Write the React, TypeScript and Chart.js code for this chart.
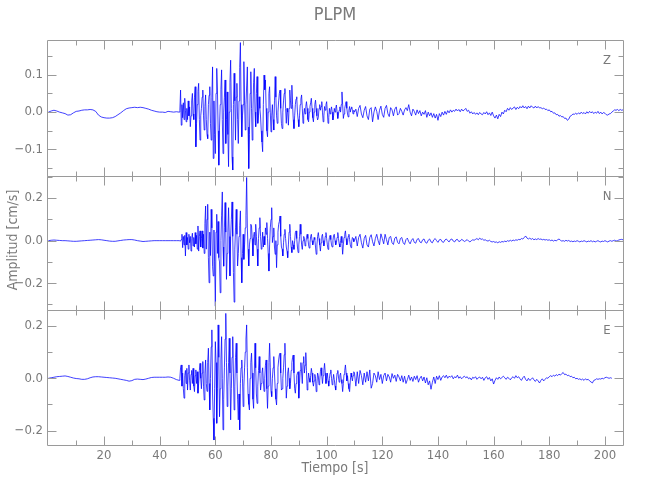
import React, { useEffect, useRef } from "react";
import { Chart, registerables } from "chart.js";

Chart.register(...registerables);

// ---------------- axes ----------------
const X_MIN = -0.5;
const X_MAX = 206.5;
const xLabelTicks = [20, 40, 60, 80, 100, 120, 140, 160, 180, 200];
const xMinorTicks = [10, 30, 50, 70, 90, 110, 130, 150, 170, 190];

const components = ["Z", "N", "E"];
const zRange = [-0.171, 0.193];
const nRange = [-0.326, 0.304];
const eRange = [-0.255, 0.261];
const zMajorTicks = [-0.1, 0, 0.1];
const zMinorTicks = [-0.15, -0.05, 0.05, 0.15];
const nMajorTicks = [-0.2, 0, 0.2];
const nMinorTicks = [-0.3, -0.1, 0.1, 0.3];
const eMajorTicks = [-0.2, 0, 0.2];
const eMinorTicks = [-0.1, 0.1];

// ---------------- digitised traces ----------------
// sampling of the read-off values (seconds)
const PRE_START = 0;
const PRE_STEP = 1;
const EVENT_START = 47;
const EVENT_STEP = 0.25;
const TAIL_START = 110.5;
const TAIL_STEP = 0.5;

// amplitudes in units of 0.001 cm/s
const zPre = [0, 3, 5, 3, 0, -2, -4, -8, -7, -2, 2, 3, 5, 6, 6, 7, 6, 2, -8, -13, -15, -16, -16, -15, -12, -7, -2, 4, 9, 11, 12, 13, 12, 13, 12, 10, 8, 5, 3, 1, 0, 0, -1, 2, 1, 0, 1];
const zEvent = [
  0, 5, 59, -35, 20, -15, 25, -20, 37, 5, -26, 10, -20, 30, -10, 14,
  -39, -10, 30, 50, -5, -20, 40, 68, -93, -30, 20, 55, 77, -20, -75, -10,
  10, 40, 59, -10, -48, 15, 46, -20, -60, -71, 20, 45, 68, -30, -75, 40,
  121, -124, 30, -60, -111, 50, 117, 59, -50, -142, -40, 20, 60, 113, -20, -111,
  0, 40, 86, -84, -20, 54, -60, -146, 0, 80, 139, 10, -120, -155, 20, 104,
  30, -75, 40, 77, -20, -84, 30, 120, 186, 20, -66, -10, 20, 135, 30, -48,
  20, 70, 121, -40, -151, -60, 50, 108, 10, -75, 0, 80, 117, 0, -39, 50,
  95, -30, -10, 41, 10, -13, -50, -80, -106, 20, 99, 60, 86, 10, -50, -66,
  0, 50, 68, 0, -53, -10, 20, -20, -48, 30, 95, 40, -10, -30, 0, 30,
  50, 59, 10, -30, -44, 0, 30, 50, 63, 10, -30, 10, 0, -35, 10, 59,
  30, 10, 72, 20, -20, -44, -10, 20, 35, 41, 0, -20, -39, -10, 20, 35,
  46, 10, -30, -10, 10, -5, 15, 28, 10, -20, -26, 0, 15, 25, 37, 10,
  -15, -26, 0, 20, 32, 10, -10, -21, -15, 10, 20, 5, 15, 28, 0, -26,
  -10, 15, 5, 20, 28, 0, -30, -15, 10, -5, 5, 14, 0, -21, -10, 10,
  0, 10, 19, 0, -17, -5, 5, 14, 0, 20, 54, 20, -17, -5, 10, 20,
  28, 10, -5, -13, 5, 15, 0, 10, 14, 5, -5, 5, 0,
];
const zTail = [
  8, -12, 10, 18, -5, -15, 5, 15, -10, -20,
  8, 12, -26, 0, 14, 2, -20, 5, 16, -6,
  -14, 10, 18, -4, -12, 12, 6, -10, 8, 14,
  -8, -4, 10, 2, -8, 6, 12, 4, 20, 0,
  -10, 8, 2, -8, 6, -4, 4, -10, 0, -6,
  4, -14, 0, -10, -2, -14, -4, -16, -6, -22,
  -4, -12, 0, -8, 2, -6, 4, -2, 6, 0,
  5, 2, 8, 3, 7, 1, 8, 3, 6, 10,
  2, 5, -3, 1, -5, -1, -6, -2, -7, -1,
  -5, -7, -1, -5, 1, -7, -2, -9, 0, -10,
  -16, -8, -18, -6, -12, 0, -5, 5, 1, 10,
  5, 12, 7, 11, 14, 7, 13, 9, 15, 11,
  17, 11, 15, 9, 16, 11, 17, 13, 11, 16,
  11, 15, 11, 12, 9, 11, 7, 8, 4, 6,
  1, 2, -3, -2, -7, -6, -11, -9, -13, -12,
  -17, -16, -22, -19, -11, -9, -5, -6, -3, -6,
  -2, -5, 0, -4, -1, -5, 1, -3, 2, -2,
  1, -4, 0, -3, 2, -4, 0, -5, -1, -3,
  -7, -8, -5, -4, 0, 3, 6, 5, 7, 4,
  7, 5, 6,
];

const nPre = [0, 2, 3, 2, 1, 0, 0, -1, -2, -3, -3, -2, -1, 0, 1, 2, 3, 4, 5, 4, 2, 0, -2, -3, -3, -1, 1, 3, 4, 5, 5, 3, 0, -2, -4, -3, -2, -1, 0, 0, 0, 0, 0, 0, 0, 0, 0];
const nEvent = [
  0, 0, -2, 5, 30, -33, 20, -20, 25, -72, 38, -20, 15, -40, 30, -10,
  20, -49, 10, 35, -25, 15, -30, 38, -15, 25, -40, 69, -49, 20, 46, -30,
  10, 46, -35, 30, -60, 80, 163, -40, 100, 171, -80, -198, 40, -70, 147, 60,
  -120, -166, 50, -100, -308, 40, 124, -60, 90, -80, -100, -245, 0, 120, 229, -30,
  -120, 60, 179, 40, -182, -60, 40, 155, 20, -166, 20, 100, 182, 20, -150, -289,
  -40, 60, 147, 30, -119, -60, 20, 70, 140, -80, -198, -60, 30, -88, -20, 60,
  120, 297, 60, -40, -119, -20, 10, 77, 69, 10, -72, 20, 40, -20, 77, 20,
  -40, -119, 10, 60, 108, 20, -40, -20, 40, -30, 20, -20, 60, 30, 85, 10,
  -60, -143, -20, 60, 100, 155, -9, 20, 60, -30, -64, 0, -127, -20, 40, 77,
  90, 116, 20, -30, -40, -72, -10, 30, 53, 10, -30, -50, -80, -20, 40, 77,
  20, -30, -56, 0, -20, -41, 0, 38, 46, 10, -30, -56, -20, 20, 77, 30,
  -20, -41, 0, 20, 10, -25, -10, 15, 30, 10, -20, -35, -10, 20, 30, 0,
  -20, -10, 15, 5, -30, -64, -20, 20, 38, 10, -20, -49, -10, 20, 30, 0,
  -25, -10, 20, 38, 10, -20, -41, -10, 15, 25, 5, -20, -30, 0, 25, 30,
  0, -20, -10, 15, 38, 10, -15, -30, 0, 20, -10, -64, -20, 15, 30, 46,
  10, -20, -10, 20, 30, 5, -20, -33, -5, 15, 10, -5, 0,
];
const nTail = [
  20, -25, 15, 30, -10, -35, 10, 25, -20, -30,
  15, 28, -5, -25, 10, 30, 0, -20, 32, 10,
  -15, 30, 5, -20, 15, 20, -10, -18, 12, 18,
  -8, -15, 10, 15, -10, -18, 5, 12, -5, -15,
  2, 10, -8, -12, 6, 10, -6, -10, 4, 8,
  -8, -12, 2, 8, -6, -10, 4, 10, 0, -8,
  4, 6, -5, -8, 3, 8, 0, -6, 5, 8,
  -2, -6, 4, 6, -4, -2, 6, 2, -4, 0,
  5, -2, -6, 0, 4, 2, 6, 10, 4, 12,
  6, 8, 2, 4, 0, -2, 2, -4, -6, -4,
  -8, -6, -10, -5, -8, -4, -6, -2, -5, 0,
  -3, 2, -2, 3, 0, 4, 2, 6, 4, 10,
  8, 14, 22, 12, 8, 12, 6, 10, 4, 8,
  5, 10, 6, 8, 4, 6, 3, 5, 2, 4,
  0, 3, -2, 2, -1, 4, 8, 2, -2, 0,
  -3, 2, -2, 1, -4, -2, -5, -2, -4, 0,
  -3, -6, -2, -4, 0, -3, -6, -2, -4, 0,
  -5, -2, -6, -3, 0, -4, -6, -2, -4, 0,
  -3, -6, -2, 0, -3, 0, 2, -2, 0, 3,
  5, 6, 4,
];

const ePre = [0, 2, 4, 6, 7, 8, 9, 7, 4, 1, -1, -2, -4, -4, -2, 2, 5, 6, 6, 5, 4, 3, 2, 1, 0, -2, -4, -6, -8, -11, -9, -4, -3, -4, -5, -3, 0, 3, 4, 4, 4, 4, 4, 5, 4, 0, -5];
const eEvent = [
  -8, 0, 40, 51, -30, 20, -40, -76, 10, 30, -20, 38, -45, 20, 51, -10,
  -45, 15, 30, -20, 38, -30, -51, 10, 32, -20, 25, -57, -20, 30, 57, 0,
  -40, 20, 64, -30, -83, 20, 70, -20, -50, 60, 115, -20, -121, 0, 120, 185,
  -60, -153, -236, -40, 140, 60, -172, -40, 204, 80, -147, -40, 70, 159, 0, -197,
  -80, 40, 150, 248, 60, -108, -30, 60, 153, 20, -159, -40, 80, 159, 20, -121,
  -30, 80, 134, 20, -80, -159, -60, -197, -20, 40, 70, 0, -108, -30, 40, 100,
  150, 204, 40, -60, -100, -121, 0, 60, 96, 20, -80, -115, 20, 134, 40, -60,
  -96, -30, 30, 83, 20, -45, -20, 20, 40, -10, -50, 0, 50, 70, -40, -115,
  -30, 60, 134, 40, -50, -70, 0, 40, 83, 20, -40, -80, -102, -20, 40, 70,
  90, 96, 20, -45, -40, 0, 40, 90, 134, 20, -76, -30, 20, 40, 0, -40,
  -20, 30, 60, 80, 89, 20, -40, -57, -20, 10, 20, 25, -76, -20, 30, 60,
  20, -20, 60, 83, 20, 50, 98, 30, -45, -20, 20, 0, -15, 10, 38, 20,
  -15, -30, -10, 15, 0, -51, -20, 20, 10, -25, -10, 25, 40, 10, -20, 10,
  30, 57, 20, -20, 0, 20, -10, -30, 0, 20, 32, 0, -25, -10, 15, -5,
  -30, -45, -10, 20, 30, 5, -15, 10, 20, -5, -20, -51, -20, 15, 30, 51,
  20, -10, 10, -20, -40, -51, -10, 20, 5, -10, 10, 25, 20,
];
const eTail = [
  -30, 25, -20, 30, 10, -25, 20, -15, 25, -10,
  32, -38, -20, 20, 10, -15, 25, -5, 15, -20,
  10, 20, -10, 15, 5, -15, 18, 0, 12, -12,
  15, 5, -10, 10, -15, 8, -20, -5, 12, -8,
  5, -12, 8, -5, 10, -15, 0, 8, -10, 5,
  -18, 2, -25, -10, -42, -15, 5, -20, 8, -5,
  10, -8, 5, 10, 2, 12, 0, 8, 4, 10,
  -2, 6, 2, 12, 0, 6, -2, 4, 8, 2,
  6, -2, 2, -6, 4, 0, 6, -4, 2, 5,
  -2, 4, -8, 2, 6, -4, 3, -10, -2, -22,
  -8, 2, -4, 5, -2, 3, 8, 2, -4, 4,
  0, -6, 2, 6, 0, 10, 2, 6, -2, -8,
  2, 8, -4, -10, 0, -8, -4, 2, -6, -12,
  -4, -10, -18, -8, -2, -10, -4, 2, 0, 6,
  10, 6, 12, 8, 14, 10, 16, 12, 18, 22,
  14, 16, 10, 12, 6, 8, 2, 4, -2, 0,
  -4, -2, -6, -3, -8, -2, -6, -4, -10, -14,
  -18, -8, -6, -2, -4, -2, -3, 0, -2, 2,
  4, 2, 0, 2, 0,
];

// ---------------- styling ----------------
const FONT = '"Liberation Sans Narrow", "DejaVu Sans Condensed", "Arial Narrow", sans-serif';
const TEXT_COLOR = "#7a7a7a";
const AXIS_COLOR = "#9a9a9a";
const TRACE_COLOR = "rgb(0,0,255)";

function buildPoints(pre: number[], event: number[], tail: number[]) {
  const pts: { x: number; y: number }[] = [];
  pre.forEach((v, i) => pts.push({ x: PRE_START + i * PRE_STEP, y: v / 1000 }));
  event.forEach((v, i) => pts.push({ x: EVENT_START + i * EVENT_STEP, y: v / 1000 }));
  tail.forEach((v, i) => pts.push({ x: TAIL_START + i * TAIL_STEP, y: v / 1000 }));
  return pts;
}

const panels = [
  { id: "yZ", label: components[0], range: zRange, major: zMajorTicks, minor: zMinorTicks, weight: 136, order: 3 },
  { id: "yN", label: components[1], range: nRange, major: nMajorTicks, minor: nMinorTicks, weight: 134, order: 2 },
  { id: "yE", label: components[2], range: eRange, major: eMajorTicks, minor: eMinorTicks, weight: 135, order: 1 },
];

function fmt(v: number) {
  if (Math.abs(v) < 1e-9) return "0.0";
  return (v < 0 ? "\u2212" : "") + Math.abs(v).toFixed(1);
}

const framePlugin = {
  id: "idlFrame",
  afterDraw(chart: any) {
    const ctx = chart.ctx as CanvasRenderingContext2D;
    const area = chart.chartArea;
    const xs = chart.scales.x;
    const left = Math.round(area.left) + 0.5;
    const right = Math.round(area.right) + 0.5;
    ctx.save();
    ctx.strokeStyle = AXIS_COLOR;
    ctx.lineWidth = 1;
    panels.forEach((p) => {
      const ys = chart.scales[p.id];
      const top = Math.round(ys.top) + 0.5;
      const bottom = Math.round(ys.bottom) + 0.5;
      ctx.beginPath();
      ctx.rect(left, top, right - left, bottom - top);
      const yTick = (vals: number[], len: number) =>
        vals.forEach((v) => {
          const py = Math.round(ys.getPixelForValue(v)) + 0.5;
          ctx.moveTo(left, py);
          ctx.lineTo(left + len, py);
          ctx.moveTo(right, py);
          ctx.lineTo(right - len, py);
        });
      yTick(p.major, 9);
      yTick(p.minor, 5);
      const xTick = (vals: number[], len: number) =>
        vals.forEach((v) => {
          const px = Math.round(xs.getPixelForValue(v)) + 0.5;
          ctx.moveTo(px, top);
          ctx.lineTo(px, top + len);
          ctx.moveTo(px, bottom);
          ctx.lineTo(px, bottom - len);
        });
      xTick(xLabelTicks, 9);
      xTick(xMinorTicks, 5);
      ctx.stroke();

      ctx.fillStyle = TEXT_COLOR;
      ctx.font = `13px ${FONT}`;
      ctx.textAlign = "center";
      ctx.textBaseline = "middle";
      ctx.fillText(p.label, area.right - 16, ys.top + 21);
    });

    ctx.fillStyle = TEXT_COLOR;
    ctx.textAlign = "center";
    ctx.textBaseline = "middle";
    ctx.font = `18px ${FONT}`;
    ctx.fillText("PLPM", (area.left + area.right) / 2, 15);
    ctx.font = `14px ${FONT}`;
    ctx.fillText("Tiempo [s]", (area.left + area.right) / 2, 468);
    ctx.save();
    ctx.translate(13, 240);
    ctx.rotate(-Math.PI / 2);
    ctx.fillText("Amplitud [cm/s]", 0, 0);
    ctx.restore();
    ctx.restore();
  },
};

export default function App() {
  const canvasRef = useRef<HTMLCanvasElement | null>(null);

  useEffect(() => {
    if (!canvasRef.current) return;
    const tickFont = { family: FONT, size: 13 };
    const yScales: any = {};
    panels.forEach((p) => {
      yScales[p.id] = {
        type: "linear",
        position: "left",
        stack: "traces",
        stackWeight: p.weight,
        weight: p.order,
        min: p.range[0],
        max: p.range[1],
        bounds: "data",
        grid: { display: false, drawTicks: false },
        border: { display: false },
        afterBuildTicks: (s: any) => {
          s.ticks = p.major.map((v) => ({ value: v }));
        },
        afterFit: (s: any) => {
          s.width = 47;
        },
        ticks: {
          padding: 4,
          color: TEXT_COLOR,
          font: tickFont,
          callback: (v: any) => fmt(Number(v)),
        },
      };
    });

    const datasets = [
      { data: buildPoints(zPre, zEvent, zTail), yAxisID: "yZ" },
      { data: buildPoints(nPre, nEvent, nTail), yAxisID: "yN" },
      { data: buildPoints(ePre, eEvent, eTail), yAxisID: "yE" },
    ].map((d) => ({
      ...d,
      xAxisID: "x",
      borderColor: TRACE_COLOR,
      borderWidth: 0.75,
      pointRadius: 0,
      tension: 0,
      fill: false,
    }));

    const chart = new Chart(canvasRef.current, {
      type: "line",
      data: { datasets },
      plugins: [framePlugin],
      options: {
        animation: false,
        responsive: false,
        events: [],
        parsing: false,
        normalized: true,
        layout: { padding: { top: 40, right: 27, left: 0, bottom: 0 } },
        plugins: {
          legend: { display: false },
          tooltip: { enabled: false },
          title: { display: false },
        },
        scales: {
          x: {
            type: "linear",
            position: "bottom",
            min: X_MIN,
            max: X_MAX,
            bounds: "data",
            grid: { display: false, drawTicks: false },
            border: { display: false },
            afterBuildTicks: (s: any) => {
              s.ticks = xLabelTicks.map((v) => ({ value: v }));
            },
            afterFit: (s: any) => {
              s.height = 55;
            },
            ticks: {
              padding: 3,
              color: TEXT_COLOR,
              font: tickFont,
              maxRotation: 0,
              autoSkip: false,
              callback: (v: any) => String(v),
            },
          },
          ...yScales,
        },
      } as any,
    });
    return () => chart.destroy();
  }, []);

  return (
    <div style={{ position: "absolute", left: 0, top: 0, width: 650, height: 500, background: "#fff" }}>
      <canvas ref={canvasRef} width={650} height={500} style={{ width: 650, height: 500 }} />
    </div>
  );
}
